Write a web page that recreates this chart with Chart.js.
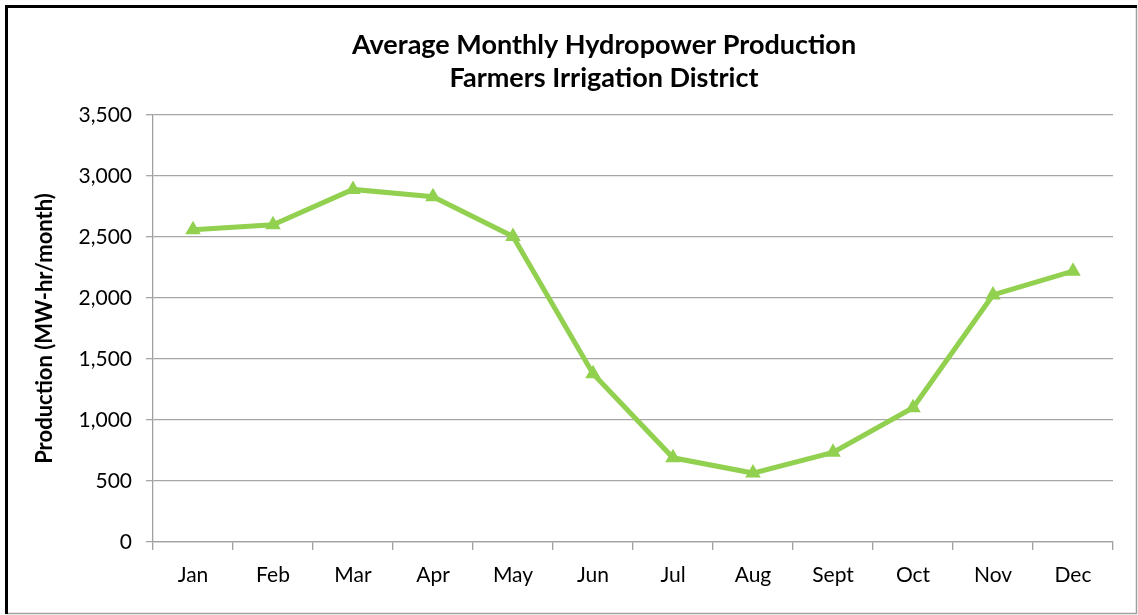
<!DOCTYPE html>
<html>
<head>
<meta charset="utf-8">
<script src="https://cdn.jsdelivr.net/npm/chart.js@4/dist/chart.umd.min.js"></script>
<style>
  html, body { margin: 0; padding: 0; background: #fff; }
  #wrap { width: 1138px; height: 615px; position: relative; }
</style>
</head>
<body>
<div id="wrap"><canvas id="hydroChart" width="1138" height="615"></canvas></div>
<script>
// Chart data
var months = ['Jan', 'Feb', 'Mar', 'Apr', 'May', 'Jun', 'Jul', 'Aug', 'Sept', 'Oct', 'Nov', 'Dec'];
var production = [2560, 2600, 2890, 2830, 2505, 1380, 690, 565, 735, 1100, 2025, 2220];
var titleLines = ['Average Monthly Hydropower Production', 'Farmers Irrigation District'];
var yAxisTitle = 'Production (MW-hr/month)';
var yMin = 0, yMax = 3500, yStep = 500;

var FONT = 'Lato, "Open Sans", sans-serif';

// frame and title drawn straight on the canvas (Excel-style placement)
var framePlugin = {
    id: 'frame',
    beforeDraw: function(chart) {
        var ctx = chart.ctx;
        ctx.save();
        ctx.fillStyle = '#ffffff';
        ctx.fillRect(0, 0, chart.width, chart.height);
        ctx.strokeStyle = '#a0a0a0';
        ctx.lineWidth = 1.5;
        ctx.beginPath();
        ctx.moveTo(6, 613.5);
        ctx.lineTo(1136.5, 613.5);
        ctx.lineTo(1136.5, 6);
        ctx.stroke();
        ctx.strokeStyle = '#000000';
        ctx.lineWidth = 3;
        ctx.beginPath();
        ctx.moveTo(6.5, 614);
        ctx.lineTo(6.5, 6.5);
        ctx.lineTo(1137, 6.5);
        ctx.stroke();
        ctx.restore();
    },
    afterDraw: function(chart) {
        var ctx = chart.ctx;
        ctx.save();
        ctx.fillStyle = '#000000';
        ctx.font = 'bold 27px ' + FONT;
        ctx.textAlign = 'center';
        ctx.textBaseline = 'middle';
        ctx.fillText(titleLines[0], 604, 45);
        ctx.fillText(titleLines[1], 604, 78);
        ctx.restore();
    }
};

var ctx = document.getElementById('hydroChart').getContext('2d');
var chart = new Chart(ctx, {
    type: 'line',
    data: {
        labels: months,
        datasets: [{
            label: 'Production',
            data: production,
            fill: false,
            borderColor: '#92d050',
            backgroundColor: '#92d050',
            borderWidth: 5,
            tension: 0,
            pointStyle: 'triangle',
            pointRadius: 7,
            pointBorderWidth: 2,
            pointBorderColor: '#92d050',
            pointBackgroundColor: '#92d050'
        }]
    },
    options: {
        responsive: false,
        animation: false,
        layout: {
            padding: { left: 0, top: 115, right: 25, bottom: 0 }
        },
        plugins: {
            legend: { display: false },
            title: { display: false },
            tooltip: { enabled: false }
        },
        scales: {
            x: {
                offset: true,
                afterFit: function(scale) { scale.height = 73; },
                grid: {
                    offset: true,
                    drawOnChartArea: false,
                    drawTicks: true,
                    tickLength: 8,
                    color: '#a0a0a0',
                    lineWidth: 1.3
                },
                border: { color: '#a0a0a0', width: 1.3 },
                ticks: {
                    color: '#000000',
                    font: { family: FONT, size: 21 },
                    padding: 13,
                    maxRotation: 0,
                    autoSkip: false
                }
            },
            y: {
                min: yMin,
                max: yMax,
                afterFit: function(scale) { scale.width = 153; },
                grid: {
                    color: '#a6a6a6',
                    lineWidth: 1.3,
                    drawTicks: true,
                    tickLength: 7
                },
                border: { color: '#a0a0a0', width: 1.3 },
                ticks: {
                    stepSize: yStep,
                    color: '#000000',
                    font: { family: FONT, size: 21 },
                    padding: 14,
                    callback: function(v) { return v.toLocaleString('en-US'); }
                },
                title: {
                    display: true,
                    text: yAxisTitle,
                    color: '#000000',
                    font: { family: FONT, size: 22, weight: 'bold' },
                    padding: { top: 32, bottom: 0 }
                }
            }
        }
    },
    plugins: [framePlugin]
});
</script>
</body>
</html>
